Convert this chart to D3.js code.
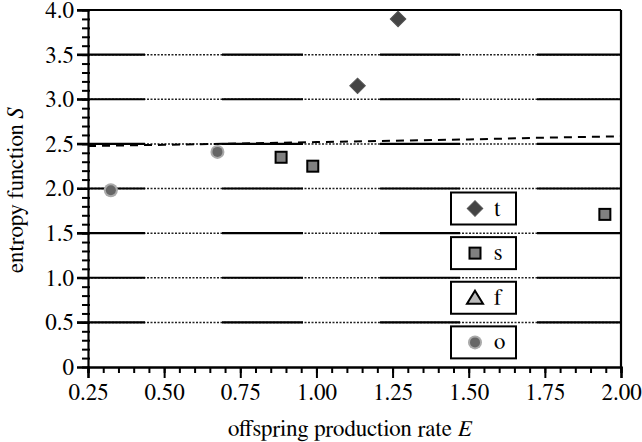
<!DOCTYPE html>
<html>
<head>
<meta charset="utf-8">
<script src="https://cdn.jsdelivr.net/npm/d3@7/dist/d3.min.js"></script>
<style>
  body { margin: 0; background: white; }
  svg { display: block; }
</style>
</head>
<body>
<script>
// data
const tPoints = [[1.135, 3.15], [1.268, 3.90]]
const sPoints = [[0.884, 2.35], [0.988, 2.25], [1.947, 1.71]]
const fPoints = []
const oPoints = [[0.325, 1.98], [0.675, 2.41]]
const dashLine = [[0.25, 2.475], [0.5, 2.49], [0.75, 2.505], [1.0, 2.52], [1.25, 2.535], [1.5, 2.55], [1.75, 2.57], [2.0, 2.585]]

const xTicks = [0.25, 0.5, 0.75, 1.0, 1.25, 1.5, 1.75, 2.0]
const yTicks = [0, 0.5, 1.0, 1.5, 2.0, 2.5, 3.0, 3.5, 4.0]
const legendNames = ["t", "s", "f", "o"]
const legendRows = [2.0, 1.5, 1.0, 0.5]

const w = 642
const h = 442
const font = "FreeSerif, 'Liberation Serif', serif"

const xScale = d3.scaleLinear().domain([0.25, 2.0]).range([88, 621])
const yScale = d3.scaleLinear().domain([0, 4.0]).range([367, 10])

const svg = d3.select("body")
              .append("svg")
              .attr("width", w)
              .attr("height", h)
              .attr("font-family", font)

// grid lines: dotted underneath, solid pieces on top
const grid = svg.append("g")
grid.selectAll(".dots")
    .data(yTicks.filter(d => d > 0))
    .enter()
    .append("line")
    .attr("x1", 77).attr("x2", xScale(2.0))
    .attr("y1", d => yScale(d)).attr("y2", d => yScale(d))
    .attr("stroke", "#222")
    .attr("stroke-width", 1.5)
    .attr("stroke-dasharray", "2 1.5")
grid.selectAll(".solid")
    .data(yTicks.filter(d => d > 0))
    .enter()
    .append("line")
    .attr("x1", 77).attr("x2", xScale(2.0))
    .attr("y1", d => yScale(d)).attr("y2", d => yScale(d))
    .attr("stroke", "#000")
    .attr("stroke-width", 2.2)
    .attr("stroke-dasharray", d => d == 4.0 ? null : "68 77 81 77 80 77 90")

// right frame
svg.append("line")
   .attr("x1", xScale(2.0)).attr("x2", xScale(2.0))
   .attr("y1", yScale(4.0)).attr("y2", yScale(0))
   .attr("stroke", "#000").attr("stroke-width", 2.2)

// dashed curve
svg.append("path")
   .datum(dashLine)
   .attr("d", d3.line().x(d => xScale(d[0])).y(d => yScale(d[1])))
   .attr("fill", "none")
   .attr("stroke", "#000")
   .attr("stroke-width", 2)
   .attr("stroke-dasharray", "8 6")

// axes
const xAxis = d3.axisBottom(xScale).tickValues(xTicks).tickFormat(d3.format(".2f")).tickSize(11).tickPadding(6)
const xMinor = d3.axisBottom(xScale).tickValues(d3.range(0.25, 2.0001, 0.05)).tickFormat("").tickSize(6)
const yAxis = d3.axisLeft(yScale).tickValues(yTicks).tickFormat(d => d == 0 ? "0" : d3.format(".1f")(d)).tickSize(11).tickPadding(3)
const yMinor = d3.axisRight(yScale).tickValues(d3.range(0, 4.0001, 0.1)).tickFormat("").tickSize(8)

function styleAxis(g) {
  g.attr("font-family", font).attr("font-size", 23)
  g.select(".domain").attr("stroke", "#000").attr("stroke-width", 2.2)
  g.selectAll(".tick line").attr("stroke", "#000").attr("stroke-width", 2)
  g.selectAll(".tick text").attr("fill", "#000").attr("font-family", font).attr("font-size", 23)
}

svg.append("g").attr("transform", "translate(0," + yScale(0) + ")").call(xMinor).call(styleAxis)
svg.append("g").attr("transform", "translate(0," + yScale(0) + ")").call(xAxis).call(styleAxis)
svg.append("g").attr("transform", "translate(" + (xScale(0.25) - 6) + ",0)").call(yMinor).call(styleAxis)
  .select(".domain").remove()
svg.append("g").attr("transform", "translate(" + xScale(0.25) + ",0)").call(yAxis).call(styleAxis)

// axis titles
const xt = svg.append("text")
   .attr("x", 228).attr("y", 436)
   .attr("font-family", font).attr("font-size", 23)
xt.append("tspan").text("offspring production rate ")
xt.append("tspan").attr("font-style", "italic").text("E")

const yt = svg.append("text")
   .attr("transform", "translate(23," + ((yScale(0) + yScale(4)) / 2 + 2) + ") rotate(-90)")
   .attr("text-anchor", "middle")
   .attr("font-family", font).attr("font-size", 23)
yt.append("tspan").text("entropy function ")
yt.append("tspan").attr("font-style", "italic").text("S")

// markers
function diamond(g) {
  g.append("rect").attr("x", -5.5).attr("y", -5.5).attr("width", 11).attr("height", 11)
   .attr("transform", "rotate(45)")
   .attr("fill", "#444").attr("stroke", "#555").attr("stroke-width", 1)
}
function square(g) {
  g.append("rect").attr("x", -5.5).attr("y", -5.5).attr("width", 11).attr("height", 11)
   .attr("fill", "#808080").attr("stroke", "#000").attr("stroke-width", 2)
}
function triangle(g) {
  g.append("path").attr("d", "M0,-7L8,6L-8,6Z")
   .attr("fill", "#bbb").attr("stroke", "#000").attr("stroke-width", 2).attr("stroke-linejoin", "miter")
}
function circle(g) {
  g.append("circle").attr("r", 7).attr("fill", "#aaa")
  g.append("circle").attr("r", 5).attr("fill", "#666")
}
const markers = [diamond, square, triangle, circle]
const series = [tPoints, sPoints, fPoints, oPoints]

series.forEach((pts, i) => {
  svg.selectAll(null)
     .data(pts)
     .enter()
     .append("g")
     .attr("transform", d => "translate(" + xScale(d[0]) + "," + yScale(d[1]) + ")")
     .each(function () { markers[i](d3.select(this)) })
})

// legend
legendNames.forEach((name, i) => {
  const top = yScale(legendRows[i]) + 4
  const g = svg.append("g").attr("transform", "translate(451," + top + ")")
  g.append("rect").attr("width", 65).attr("height", 32)
   .attr("fill", "white").attr("stroke", "#000").attr("stroke-width", 2)
  const m = g.append("g").attr("transform", "translate(24,16)")
  markers[i](m)
  g.append("text").attr("x", 43).attr("y", 23)
   .attr("font-family", font).attr("font-size", 23).text(name)
})
</script>
</body>
</html>
